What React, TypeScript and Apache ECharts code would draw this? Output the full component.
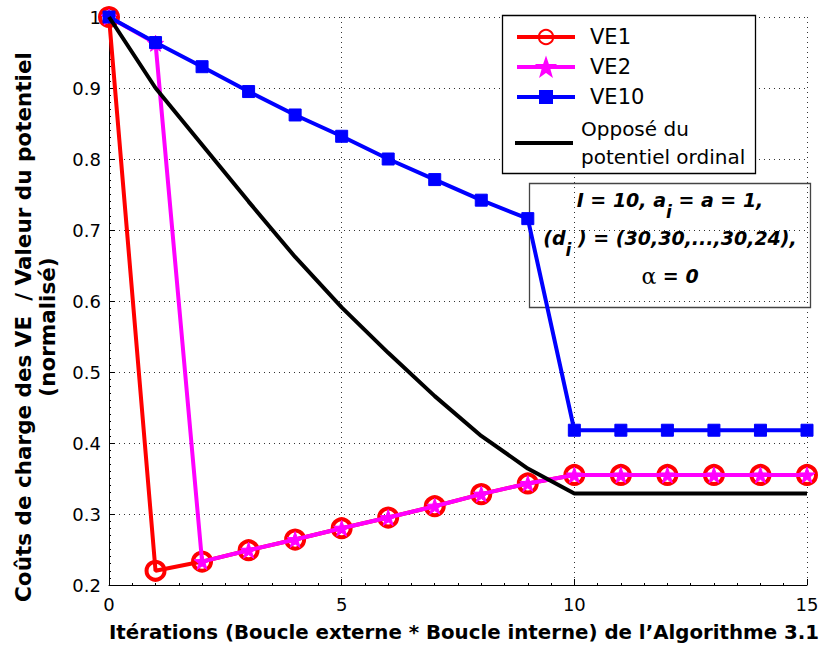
import React, { useEffect, useRef } from "react";
import * as echarts from "echarts";

const iterations = [0, 1, 2, 3, 4, 5, 6, 7, 8, 9, 10, 11, 12, 13, 14, 15];
const ve1 = [1, 0.22, 0.233, 0.249, 0.264, 0.28, 0.295, 0.311, 0.328, 0.343, 0.355, 0.355, 0.355, 0.355, 0.355, 0.355];
const ve2 = [1, 0.963, 0.233, 0.249, 0.264, 0.28, 0.295, 0.311, 0.328, 0.343, 0.355, 0.355, 0.355, 0.355, 0.355, 0.355];
const ve10 = [1, 0.964, 0.93, 0.895, 0.862, 0.832, 0.8, 0.771, 0.742, 0.716, 0.418, 0.418, 0.418, 0.418, 0.418, 0.418];
const potential = [1, 0.9, 0.82, 0.74, 0.662, 0.591, 0.527, 0.466, 0.41, 0.364, 0.329, 0.329, 0.329, 0.329, 0.329, 0.329];

const seriesNames = ["VE1", "VE2", "VE10", "Opposé du\npotentiel ordinal"];
const xTitle = "Itérations (Boucle externe * Boucle interne) de l’Algorithme 3.1";
const yTitle = "Coûts de charge des VE  / Valeur du potentiel\n(normalisé)";

const FONT = "DejaVu Sans";
const STAR = "path://M0,-10 L2.35,-3.24 L9.51,-3.09 L3.8,1.24 L5.88,8.09 L0,4 L-5.88,8.09 L-3.8,1.24 L-9.51,-3.09 L-2.35,-3.24Z";

const pairs = (ys: number[]) => iterations.map((x, i) => [x, ys[i]]);

export default function App() {
  const ref = useRef<HTMLDivElement>(null);
  useEffect(() => {
    if (!ref.current) return;
    const chart = echarts.init(ref.current, null, { renderer: "svg" });
    const legendText = (lh: number, size: number, padLeft: number) => ({
      fontFamily: FONT,
      fontSize: size,
      color: "#000",
      lineHeight: lh,
      padding: [0, 0, 0, padLeft],
    });
    const legendBase = {
      orient: "vertical",
      left: 515,
      padding: 0,
      itemWidth: 58,
      selectedMode: false,
      lineStyle: { width: 4 },
      z: 6,
    };
    chart.setOption({
      animation: false,
      backgroundColor: "#fff",
      grid: { left: 109, right: 15, top: 17, bottom: 61, containLabel: false, outerBoundsMode: "none" },
      xAxis: {
        type: "value",
        min: 0,
        max: 15,
        interval: 5,
        name: xTitle,
        nameLocation: "middle",
        nameGap: 37,
        nameTextStyle: { fontFamily: FONT, fontSize: 19.8, fontWeight: "bold", color: "#000", padding: [0, 0, 0, 12] },
        axisLine: { show: true, lineStyle: { color: "#000", width: 1 } },
        axisTick: { show: true, inside: true, length: 6, lineStyle: { color: "#000" } },
        minorTick: { show: true, splitNumber: 10, length: 2, lineStyle: { color: "#000" } },
        axisLabel: { fontFamily: FONT, fontSize: 18, color: "#000", margin: 10 },
        splitLine: { show: true, lineStyle: { color: "#333", width: 1, type: [1, 4] } },
      },
      yAxis: {
        type: "value",
        min: 0.2,
        max: 1,
        interval: 0.1,
        name: yTitle,
        nameLocation: "middle",
        nameGap: 50,
        nameTextStyle: {
          fontFamily: FONT,
          fontSize: 21.5,
          fontWeight: "bold",
          color: "#000",
          lineHeight: 24,
          padding: [0, 52, 0, 0],
        },
        axisLine: { show: true, lineStyle: { color: "#000", width: 1 } },
        axisTick: { show: true, inside: true, length: 6, lineStyle: { color: "#000" } },
        minorTick: { show: true, splitNumber: 10, length: 2, lineStyle: { color: "#000" } },
        axisLabel: { fontFamily: FONT, fontSize: 18, color: "#000", margin: 8 },
        splitLine: { show: true, lineStyle: { color: "#333", width: 1, type: [1, 4] } },
      },
      legend: [
        { ...legendBase, data: [seriesNames[0]], top: 26, itemHeight: 18, textStyle: legendText(22, 21, 10) },
        { ...legendBase, data: [seriesNames[1]], top: 56, itemHeight: 21, textStyle: legendText(22, 21, 10) },
        { ...legendBase, data: [seriesNames[2]], top: 86, itemHeight: 15, textStyle: legendText(22, 21, 10) },
        {
          ...legendBase,
          data: [{ name: seriesNames[3], icon: "rect" }],
          top: 115,
          itemHeight: 4,
          textStyle: legendText(28, 20, 3),
        },
      ],
      graphic: [
        {
          type: "rect",
          z: 4,
          shape: { x: 502.5, y: 15.5, width: 253, height: 158 },
          style: { fill: "#fff", stroke: "#000", lineWidth: 1.3 },
        },
        {
          type: "rect",
          z: 4,
          shape: { x: 529.5, y: 183.5, width: 281, height: 124 },
          style: { fill: "transparent", stroke: "#444", lineWidth: 1.3 },
        },
        {
          type: "text",
          z: 7,
          x: 670,
          y: 238,
          style: {
            text: "{b|I = 10, a}{s|i}{b| = a = 1,}\n{b|(d}{s|i}{b| ) = (30,30,...,30,24),}\n{g|α}{b| = 0}",
            align: "center",
            verticalAlign: "middle",
            lineHeight: 38,
            fill: "#000",
            rich: {
              b: { fontFamily: FONT, fontSize: 19, fontWeight: "bold", fontStyle: "italic", lineHeight: 38, fill: "#000" },
              s: { fontFamily: FONT, fontSize: 17, fontWeight: "bold", fontStyle: "italic", padding: [24, 0, 0, 0], fill: "#000" },
              g: { fontFamily: "DejaVu Serif", fontSize: 22, lineHeight: 38, fill: "#000" },
            },
          },
        },
      ],
      series: [
        {
          name: seriesNames[0],
          type: "line",
          data: pairs(ve1),
          symbol: "circle",
          symbolSize: 18,
          lineStyle: { color: "#ff0000", width: 4 },
          itemStyle: { color: "rgba(255,255,255,0)", borderColor: "#ff0000", borderWidth: 4 },
          z: 2,
        },
        {
          name: seriesNames[1],
          type: "line",
          data: pairs(ve2),
          symbol: STAR,
          symbolSize: 16,
          lineStyle: { color: "#ff00ff", width: 4 },
          itemStyle: { color: "#ff00ff", borderColor: "#ff00ff", borderWidth: 1 },
          z: 3,
        },
        {
          name: seriesNames[2],
          type: "line",
          data: pairs(ve10),
          symbol: "rect",
          symbolSize: 12,
          lineStyle: { color: "#0000ff", width: 4 },
          itemStyle: { color: "#0000ff", borderColor: "#0000ff", borderWidth: 1 },
          z: 4,
        },
        {
          name: seriesNames[3],
          type: "line",
          data: pairs(potential),
          symbol: "none",
          lineStyle: { color: "#000", width: 4 },
          itemStyle: { color: "#000" },
          z: 5,
        },
      ],
    });
    return () => chart.dispose();
  }, []);
  return <div ref={ref} style={{ width: 822, height: 646, position: "absolute", left: 0, top: 0 }} />;
}
